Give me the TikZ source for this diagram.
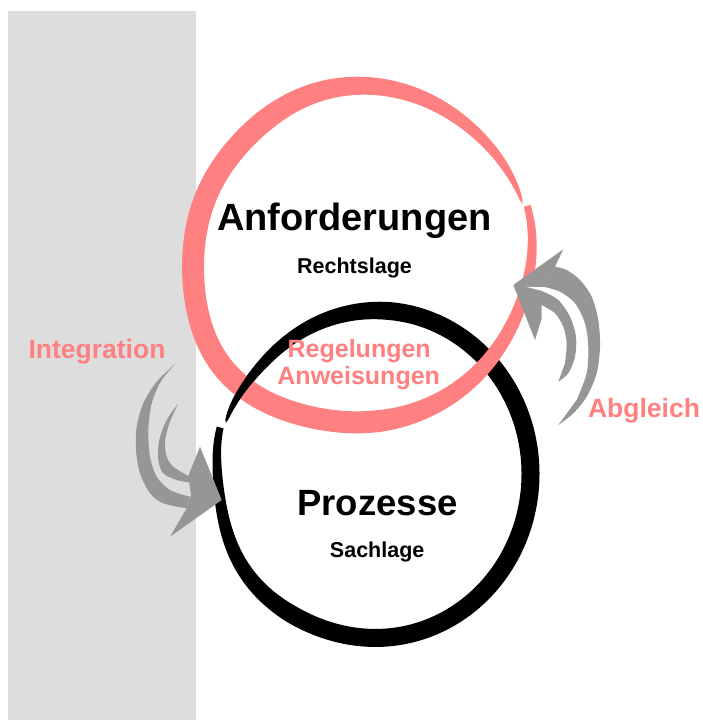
\documentclass[tikz,border=0pt]{standalone}
\usepackage{fontspec}
\setmainfont{Liberation Sans}
\definecolor{pinkc}{RGB}{255,128,128}
\definecolor{arrowgray}{RGB}{150,150,150}
\definecolor{panelgray}{RGB}{221,221,221}
\begin{document}
\begin{tikzpicture}[x=1pt,y=-1pt,
  declare function={
    wb(\t)=min(18,7+(196-\t)*0.15,13*sqrt(max(0,\t+162)/40));
    db(\t)=4*(\t-196)/358+5*exp(-((\t-145)/25)^2);
    bxb(\t)=-6*max(0,cos(\t-198))^20;
    wr(\t)=min(22,7+(\t+16)*0.15,18*sqrt(max(0,343-\t)/73));
    dr(\t)=-4*(\t+16)/359+12*exp(-((\t-140)/28)^2)-4*exp(-((\t-225)/25)^2);
    bxr(\t)=6*max(0,cos(\t+16))^8;
  },
  txt/.style={font=\bfseries, inner sep=0pt, anchor=base},
  bigtxt/.style={txt, font=\bfseries\fontsize{38}{40}\selectfont},
  smalltxt/.style={txt, font=\bfseries\fontsize{21.5}{24}\selectfont},
  pinktxt/.style={txt, text=pinkc, font=\bfseries\fontsize{25}{28}\selectfont},
  sidetxt/.style={txt, text=pinkc, font=\bfseries\fontsize{26.5}{29}\selectfont},
  arrowfill/.style={fill=arrowgray, draw=none},
  blackring/.pic={
    \fill[black] plot[domain=196:-162, samples=240]
      ({376.4+bxb(\x)+(156.3+db(\x)+wb(\x)/2)*cos(\x)}, {473.2+(165.9+db(\x)+wb(\x)/2)*sin(\x)})
      -- plot[domain=-162:196, samples=240]
      ({376.4+bxb(\x)+(156.3+db(\x)-wb(\x)/2)*cos(\x)}, {473.2+(165.9+db(\x)-wb(\x)/2)*sin(\x)})
      -- cycle;
  },
]
\useasboundingbox (0,0) rectangle (702,720);
\fill[white] (0,0) rectangle (702,720);
% grey panel
\fill[panelgray] (8,11) rectangle (196,720);

% black ring (Prozesse)
\pic {blackring};

% red ring (Anforderungen)
\fill[pinkc] plot[domain=-16:343, samples=240]
  ({360.2+bxr(\x)+(167.5+dr(\x)+wr(\x)/2)*cos(\x)}, {252.7+(170.3+dr(\x)+wr(\x)/2)*sin(\x)})
  -- plot[domain=343:-16, samples=240]
  ({360.2+bxr(\x)+(167.5+dr(\x)-wr(\x)/2)*cos(\x)}, {252.7+(170.3+dr(\x)-wr(\x)/2)*sin(\x)})
  -- cycle;

% black over red at the left crossing
\begin{scope}
  \clip (200,330) rectangle (275,420);
  \pic {blackring};
\end{scope}

% left curved arrow (Integration)
\fill[arrowfill] plot[smooth] coordinates {(176.7,362.7) (156.7,381.7) (143.3,403.3) (136.7,426.7) (136,450) (140,473.3) (150,493.3) (163.3,503.3) (186.7,508.3)}
  -- plot[smooth] coordinates {(190,496.7) (170,490) (156.7,476.7) (150,456.7) (148.3,430) (151.7,403.3) (161.7,380) (176.7,362.7)} -- cycle;
\fill[arrowfill] plot[smooth] coordinates {(178.3,403.3) (166.7,420) (159.3,440) (158.3,460) (163.3,473.3) (176.7,480) (191.7,482.7)}
  -- plot[smooth] coordinates {(188.3,476) (173.3,466.7) (166.7,456.7) (165,441.7) (169.3,423.3) (178.3,403.3)} -- cycle;
\fill[arrowfill] (200,446.7) -- (221.7,500) -- (170,536.7) -- (186.7,508.3) -- (191,495) -- (188.3,476) -- cycle;

% right curved arrow (Abgleich)
\fill[arrowfill] plot[smooth] coordinates {(555,266.7) (566.7,270) (580,280) (591.7,296.7) (598.3,320) (600,346.7) (596.7,373.3) (586.7,396.7) (573.3,413.3) (558.3,425)}
  -- plot[smooth] coordinates {(576.7,400) (586.7,373.3) (588.3,346.7) (585,323.3) (575,303.3) (560,291.7) (543.3,286.7)} -- cycle;
\fill[arrowfill] plot[smooth] coordinates {(528.3,287.3) (543.3,291.7) (558.3,300) (570,316.7) (576,336.7) (575,356.7) (568.3,373.3) (558.3,381.7)}
  -- plot[smooth] coordinates {(565,363.3) (566.7,343.3) (563.3,326.7) (555,313.3) (541.7,305)} -- cycle;
\fill[arrowfill] (563.3,249.3) -- (513.3,285) -- (535,340) -- (541.7,318.3) -- (541.7,305) -- (543,288) -- (555,266.7) -- cycle;
\fill[white] (526,286.8) -- (545,287.2) -- (545,291.6) -- cycle;

% texts
\node[bigtxt] (anf) at (354.5,230) {Anforderungen};
\node[smalltxt] (recht) at (354.5,273.3) {Rechtslage};
\node[txt, font=\bfseries\fontsize{36.5}{40}\selectfont] (proz) at (377.5,515) {Prozesse};
\node[smalltxt] (sach) at (377.2,557.7) {Sachlage};
\node[pinktxt] (reg) at (359.2,357.3) {Regelungen};
\node[pinktxt] (anw) at (358.7,384.3) {Anweisungen};
\node[sidetxt] (int) at (97,358) {Integration};
\node[sidetxt] (abg) at (644,417) {Abgleich};
\end{tikzpicture}
\end{document}
